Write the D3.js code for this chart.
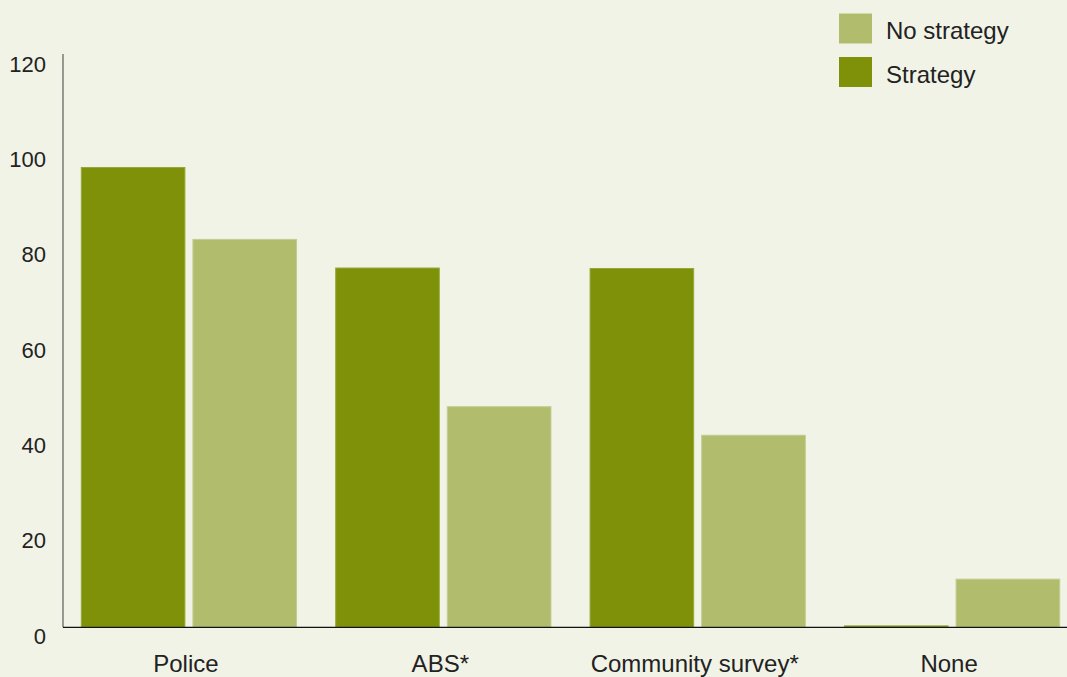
<!DOCTYPE html>
<html>
<head>
<meta charset="utf-8">
<script src="https://cdn.jsdelivr.net/npm/d3@7"></script>
<style>
  html, body { margin: 0; padding: 0; background: #f1f3e6; }
  svg { display: block; font-family: "Liberation Sans", Arial, sans-serif; }
</style>
</head>
<body>
<svg id="svg" width="1067" height="677"></svg>
<script>
var categories = ["Police", "ABS*", "Community survey*", "None"];
var strategy   = [96.5, 75.4, 75.3, 0.3];
var noStrategy = [81.4, 46.3, 40.3, 10.1];
var yTicks     = [0, 20, 40, 60, 80, 100, 120];
var seriesNames = ["Strategy", "No strategy"];
var legendNames = ["No strategy", "Strategy"];

var colors = { "Strategy": "#7f9109", "No strategy": "#b1bd6c" };
var strokes = { "Strategy": "#97a83a", "No strategy": "#c3cc8f" };

var data = categories.map(function(c, i) {
  return { cat: c, values: [
    { key: "Strategy", value: strategy[i] },
    { key: "No strategy", value: noStrategy[i] }
  ]};
});

var svg = d3.select("#svg");

var xScale = d3.scaleBand()
    .domain(categories)
    .range([63, 1078])
    .paddingInner(0.15)
    .paddingOuter(0.07);

var x1 = d3.scaleBand()
    .domain(seriesNames)
    .range([0, xScale.bandwidth()])
    .paddingInner(0.063);

var yScale = d3.scaleLinear()
    .domain([0, 120])
    .range([627.3, 55.5]);

// bars
var groups = svg.append("g").selectAll("g").data(data).enter()
    .append("g")
    .attr("transform", function(d) { return "translate(" + xScale(d.cat) + ",0)"; });

groups.selectAll("rect").data(function(d) { return d.values; }).enter()
    .append("rect")
    .attr("x", function(d) { return x1(d.key) + 0.5; })
    .attr("y", function(d) { return yScale(d.value); })
    .attr("width", x1.bandwidth() - 1)
    .attr("height", function(d) { return yScale(0) - yScale(d.value); })
    .attr("fill", function(d) { return colors[d.key]; })
    .attr("stroke", function(d) { return strokes[d.key]; })
    .attr("stroke-width", 1);

// y axis
var yAxis = svg.append("g")
    .attr("transform", "translate(63,0)")
    .call(d3.axisLeft(yScale).tickValues(yTicks).tickSize(0).tickPadding(17));
yAxis.select(".domain").remove();
yAxis.selectAll("text")
    .attr("dy", "0.72em")
    .attr("fill", "#222")
    .style("font-size", "22px")
    .style("font-family", "Liberation Sans, Arial, sans-serif");

svg.append("line")
    .attr("x1", 63).attr("x2", 63)
    .attr("y1", 54).attr("y2", yScale(0))
    .attr("stroke", "#80827a")
    .attr("stroke-width", 1.6);

// x axis
var xAxis = svg.append("g")
    .attr("transform", "translate(0," + yScale(0) + ")")
    .call(d3.axisBottom(xScale).tickSize(0).tickPadding(0));
xAxis.select(".domain").remove();
xAxis.selectAll("text")
    .attr("y", 45)
    .attr("dy", 0)
    .attr("dx", "-3")
    .attr("fill", "#222")
    .style("font-size", "24px")
    .style("font-family", "Liberation Sans, Arial, sans-serif");

svg.append("line")
    .attr("x1", 63).attr("x2", 1067)
    .attr("y1", yScale(0)).attr("y2", yScale(0))
    .attr("stroke", "#111")
    .attr("stroke-width", 1.2);

// legend
var legend = svg.append("g").selectAll("g").data(legendNames).enter()
    .append("g")
    .attr("transform", function(d, i) { return "translate(839," + (13.5 + i * 43.5) + ")"; });

legend.append("rect")
    .attr("width", 33)
    .attr("height", 30)
    .attr("fill", function(d) { return colors[d]; });

legend.append("text")
    .attr("x", 47)
    .attr("y", 25.5)
    .attr("fill", "#222")
    .style("font-size", "24px")
    .text(function(d) { return d; });
</script>
</body>
</html>
